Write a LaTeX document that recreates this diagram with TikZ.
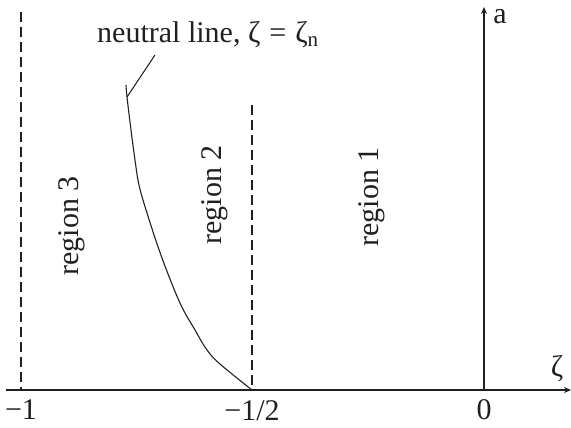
\documentclass[tikz,border=0pt]{standalone}
\usepackage{fontspec}
\setmainfont{Liberation Serif}
\usepackage{tikz}
\usetikzlibrary{arrows.meta, positioning}
\definecolor{ink}{HTML}{231F20}

\begin{document}
\begin{tikzpicture}[x=1pt, y=-1pt, ink, font=\fontsize{30}{35}\selectfont,
          axis/.style={line width=1.3pt, -{Stealth[length=7pt, width=6pt]}},
          bound/.style={line width=1.1pt, dash pattern=on 10pt off 5pt},
          curve/.style={line width=1.1pt},
          lbl/.style={inner sep=0pt},
          reg/.style={inner sep=0pt, rotate=90}]
        \useasboundingbox (0,0) rectangle (571,428);
        % axes
        \coordinate (o) at (484,390);
        \coordinate (xs) at (6,390);
        \coordinate (xe) at (571,390);
        \coordinate (ye) at (484,7);
        \draw[axis] (xs) -- (xe);
        \draw[axis] (o) -- (ye);
        % region boundaries
        \coordinate (m1) at (21,390);
        \coordinate (m1t) at (21,12);
        \coordinate (m2) at (252,390);
        \coordinate (m2t) at (252,105);
        \draw[bound] (m1t) -- (m1);
        \draw[bound] (m2t) -- (m2);
        % neutral line
        \coordinate (tip) at (127,97);
        \coordinate (lead) at (155,55);
        \draw[curve] plot[smooth, tension=0.6] coordinates {(126,85) (127,97)
          (131,130) (135,160) (139,185) (147,213) (162,258) (180,303)
          (195,330) (207,350) (220,364) (252,390)};
        \draw[curve] (tip) -- (lead);
        \node[lbl, anchor=base west] (nl) at (97,43)
          {neutral line, ζ\hspace{0.3em}=\hspace{0.3em}ζ\textsubscript{n}};
        % regions
        \node[reg] (r3) at (72,226) {region 3};
        \node[reg] (r2) at (215,195) {region 2};
        \node[reg] (r1) at (372,197) {region 1};
        % tick labels
        \node[lbl] (l1) at (21,410) {−1};
        \node[lbl] (l2) at (252,411) {−1/2};
        \node[lbl] (l0) at (484,410) {0};
        \node[lbl] (lz) at (557,369) {ζ};
        \node[lbl] (la) at (500,17) {a};
      \end{tikzpicture}
\end{document}
